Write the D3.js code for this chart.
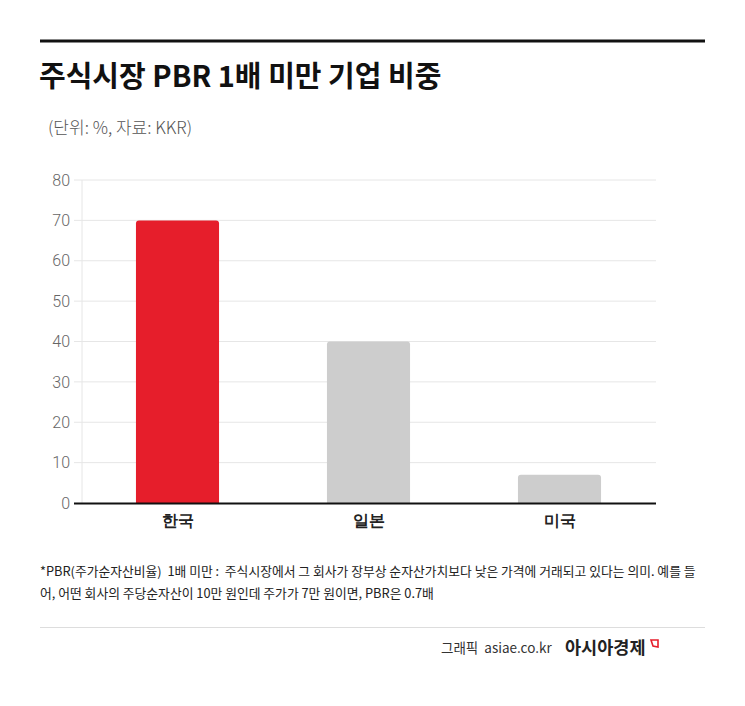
<!DOCTYPE html>
<html>
<head>
<meta charset="utf-8">
<script src="https://cdn.jsdelivr.net/npm/d3@7"></script>
<style>
  body { margin: 0; background: #fff; }
  svg { display: block; font-family: "Noto Sans CJK KR", "Noto Sans", sans-serif; }
</style>
</head>
<body>
<div id="chart"></div>
<script>
// data
var countries = ["한국", "일본", "미국"]
var shares    = [70, 40, 7]
var yTicks    = [0, 10, 20, 30, 40, 50, 60, 70, 80]
var barColors = ["#e61e2b", "#cdcdcd", "#cdcdcd"]

var W = 745, H = 706

var svg = d3.select("#chart").append("svg")
  .attr("width", W)
  .attr("height", H)

// top rule
svg.append("line")
  .attr("x1", 40).attr("x2", 705)
  .attr("y1", 41).attr("y2", 41)
  .attr("stroke", "#111").attr("stroke-width", 3)

svg.append("text")
  .attr("x", 39).attr("y", 87)
  .style("font-size", "29px")
  .style("font-weight", "bold")
  .attr("fill", "#111")
  .text("주식시장 PBR 1배 미만 기업 비중")

svg.append("text")
  .attr("x", 48).attr("y", 134)
  .style("font-size", "17px")
  .style("font-weight", "300")
  .attr("fill", "#555")
  .text("(단위: %, 자료: KKR)")

var x = d3.scaleBand()
  .domain(countries)
  .range([82, 655])
  .paddingInner(0.565)
  .paddingOuter(0.2825)

var y = d3.scaleLinear()
  .domain([0, 80])
  .range([503, 180])

// grid
svg.append("g")
  .selectAll("line")
  .data(yTicks.slice(1))
  .enter().append("line")
  .attr("x1", 74).attr("x2", 656)
  .attr("y1", d => y(d)).attr("y2", d => y(d))
  .attr("stroke", "#e6e6e6").attr("stroke-width", 1)

svg.append("line")
  .attr("x1", 82).attr("x2", 82)
  .attr("y1", y(80)).attr("y2", y(0))
  .attr("stroke", "#e6e6e6")

// y labels
var yAxis = svg.append("g")
  .attr("transform", "translate(74,0)")
  .call(d3.axisLeft(y).tickValues(yTicks).tickSize(0).tickPadding(4))
yAxis.select(".domain").remove()
yAxis.selectAll("text")
  .style("font-size", "16px")
  .style("font-weight", "300")
  .style("font-family", "Roboto, 'Noto Sans', sans-serif")
  .attr("fill", "#666")

// bars with rounded top corners
var r = 3
svg.append("g")
  .selectAll("path")
  .data(countries)
  .enter().append("path")
  .attr("fill", (d, i) => barColors[i])
  .attr("d", function (d, i) {
    var x0 = x(d), x1 = x(d) + x.bandwidth()
    var yt = y(shares[i]), yb = y(0)
    return "M" + x0 + "," + yb +
      "V" + (yt + r) +
      "Q" + x0 + "," + yt + " " + (x0 + r) + "," + yt +
      "H" + (x1 - r) +
      "Q" + x1 + "," + yt + " " + x1 + "," + (yt + r) +
      "V" + yb + "Z"
  })

// baseline
svg.append("line")
  .attr("x1", 74).attr("x2", 656)
  .attr("y1", y(0) + 0.5).attr("y2", y(0) + 0.5)
  .attr("stroke", "#111").attr("stroke-width", 2.2)

// x labels
var xAxis = svg.append("g")
  .attr("transform", "translate(0," + y(0) + ")")
  .call(d3.axisBottom(x).tickSize(0).tickPadding(12))
xAxis.select(".domain").remove()
xAxis.selectAll("text")
  .style("font-size", "15.5px")
  .style("font-weight", "bold")
  .attr("fill", "#222")

// footnote
var notes = [
  "*PBR(주가순자산비율)  1배 미만 :  주식시장에서 그 회사가 장부상 순자산가치보다 낮은 가격에 거래되고 있다는 의미. 예를 들",
  "어, 어떤 회사의 주당순자산이 10만 원인데 주가가 7만 원이면, PBR은 0.7배"
]
svg.append("g")
  .selectAll("text")
  .data(notes)
  .enter().append("text")
  .attr("x", 40)
  .attr("y", (d, i) => 576 + i * 22)
  .style("font-size", "12.8px")
  .style("white-space", "pre")
  .attr("xml:space", "preserve")
  .attr("fill", "#222")
  .text(d => d)

svg.append("line")
  .attr("x1", 40).attr("x2", 705)
  .attr("y1", 627.5).attr("y2", 627.5)
  .attr("stroke", "#ddd").attr("stroke-width", 1)

svg.append("text")
  .attr("x", 441).attr("y", 653)
  .style("font-size", "13.5px")
  .style("white-space", "pre")
  .attr("fill", "#333")
  .text("그래픽  asiae.co.kr")

svg.append("text")
  .attr("x", 565).attr("y", 654)
  .style("font-size", "17.5px")
  .style("font-weight", "bold")
  .attr("fill", "#222")
  .text("아시아경제")

// small logo mark
svg.append("path")
  .attr("d", "M651,640 H658 V647 L653,646 Z")
  .attr("fill", "none")
  .attr("stroke", "#e61e2b")
  .attr("stroke-width", 1.6)
</script>
</body>
</html>
